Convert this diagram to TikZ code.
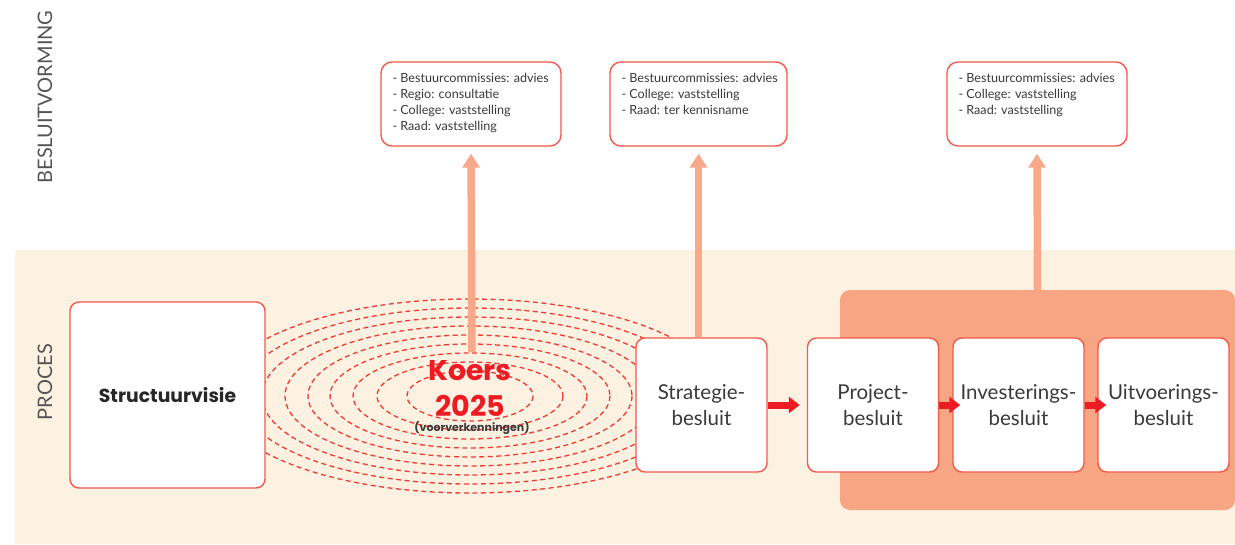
\documentclass[tikz,border=0pt]{standalone}
\usepackage{fontspec}
\setmainfont{Lato}
\newfontfamily\headfont{Poppins}
\usetikzlibrary{arrows.meta}
\definecolor{band}{HTML}{FDF1E1}
\definecolor{salmon}{HTML}{F7A583}
\definecolor{upsalmon}{HTML}{F8A98A}
\definecolor{boxred}{HTML}{F15A4A}
\definecolor{ringred}{HTML}{EE3B33}
\definecolor{flowred}{HTML}{ED1C24}
\definecolor{ink}{HTML}{3A3A3A}
\definecolor{lane}{HTML}{555555}
\tikzset{
  x=1pt, y=-1pt,
  stagebox/.style={draw=boxred, line width=1.4pt, fill=white, rounded corners=9pt,
    minimum width=131pt, minimum height=134pt, align=center, text=ink,
    font=\fontsize{20.5}{26}\selectfont, inner sep=0pt},
  notebox/.style={draw=boxred, line width=1.4pt, fill=white, rounded corners=11pt,
    minimum height=84pt, inner sep=0pt},
  notetext/.style={anchor=north west, align=left, text=ink, inner sep=0pt,
    font=\fontsize{12.6}{16}\selectfont},
  upflow/.style={draw=upsalmon, line width=7.5pt,
    -{Triangle[width=17pt,length=14pt]}, shorten >=7pt},
  rightflow/.style={draw=flowred, line width=7pt,
    -{Triangle[width=16pt,length=11pt]}},
  ring/.style={draw=ringred, line width=1.3pt, dash pattern=on 5pt off 3.5pt},
  lanelabel/.style={rotate=90, text=lane, font=\fontsize{20}{22}\selectfont, inner sep=0pt}
}
\begin{document}
\begin{tikzpicture}
\useasboundingbox (0,0) rectangle (1235,544);

% process lane background
\fill[band] (15,250) rectangle (1235,544);

% grouped project decisions
\node[fill=salmon, rounded corners=10pt, minimum width=395pt, minimum height=220pt,
  inner sep=0pt] (grp) at (1037.5,400) {};

% exploration rings around Koers 2025
\foreach \hw/\hh in {63/25, 93/34, 117/43, 140/52, 162/61, 185/70, 208/79, 230/88, 252/97}
  \draw[ring] (470,396) ellipse [x radius=\hw, y radius=\hh];

% lane labels
\node[lanelabel] (lbeslu) at (45,97) {BESLUITVORMING};
\node[lanelabel] (lproc) at (45,382) {PROCES};

% decision notes
\node[notebox, minimum width=180pt] (n1) at (471,104) {};
\node[notetext] (t1) at ([shift={(12,11.5)}]n1.north west)
  {- Bestuurcommissies: advies\\- Regio: consultatie\\- College: vaststelling\\- Raad: vaststelling};
\node[notebox, minimum width=177pt] (n2) at (698.5,104) {};
\node[notetext] (t2) at ([shift={(12,11.5)}]n2.north west)
  {- Bestuurcommissies: advies\\- College: vaststelling\\- Raad: ter kennisname};
\node[notebox, minimum width=180pt] (n3) at (1037,104) {};
\node[notetext] (t3) at ([shift={(12,11.5)}]n3.north west)
  {- Bestuurcommissies: advies\\- College: vaststelling\\- Raad: vaststelling};

% process stages
\node[stagebox, minimum width=195pt, minimum height=186pt,
  font=\headfont\bfseries\fontsize{18.8}{22}\selectfont, text=black!85] (sv) at (167.5,395) {Structuurvisie};
\node[stagebox] (sb) at (701.5,405) {Strategie-\\besluit};
\node[stagebox] (pb) at (873,405) {Project-\\besluit};
\node[stagebox] (ib) at (1018.5,405) {Investerings-\\besluit};
\node[stagebox] (ub) at (1163.5,405) {Uitvoerings-\\besluit};

% Koers 2025
\coordinate (kstart) at (472,352);
\node[text=flowred, align=center, inner sep=0pt,
  font=\headfont\bfseries\fontsize{28.5}{36}\selectfont] (koers) at (470,388) {Koers\\2025};
\node[text=ink, inner sep=0pt, font=\headfont\bfseries\fontsize{11}{12}\selectfont]
  (voor) at (472,428) {(voorverkenningen)};

% flows up to decision making
\draw[upflow] (kstart) -- (n1.south);
\draw[upflow] (sb.north -| n2.south) -- (n2.south);
\draw[upflow] (grp.north) -- (n3.south);

% flows between stages
\draw[rightflow, shorten >=7pt] (sb.east) -- (pb.west);
\draw[rightflow, shorten >=-8pt] (pb.east) -- (ib.west);
\draw[rightflow, shorten >=-9pt] (ib.east) -- (ub.west);
\end{tikzpicture}
\end{document}
